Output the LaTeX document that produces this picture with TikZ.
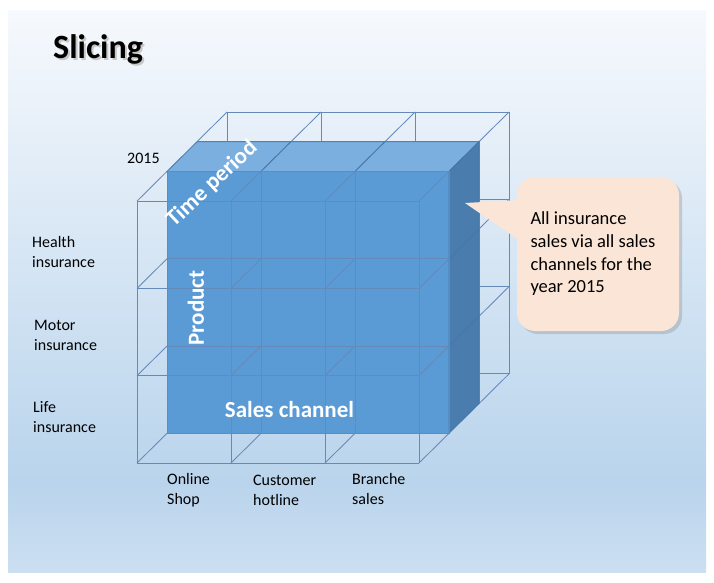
\documentclass[tikz,border=0pt]{standalone}
\usepackage{fontspec}
\setmainfont{Carlito}
\usepackage{tikz}
\usetikzlibrary{shapes,shadows,calc,positioning}

\definecolor{wirecol}{HTML}{6589B9}
\definecolor{slabfront}{HTML}{5B9BD5}
\definecolor{slabtop}{HTML}{7BAFE0}
\definecolor{slabside}{HTML}{4A7DAE}
\definecolor{slabedge}{HTML}{4677AA}
\definecolor{notefill}{HTML}{FBE5D6}
\definecolor{bgtop}{HTML}{F6F9FD}
\definecolor{bgmid}{HTML}{B9D4EC}
\definecolor{bgbot}{HTML}{CCDFF1}

\pgfdeclareverticalshading{slicebg}{100bp}{color(0bp)=(bgbot); color(25bp)=(bgbot); color(33bp)=(bgmid); color(75bp)=(bgtop); color(100bp)=(bgtop)}

\newcommand{\shadowed}[2][black!35]{\makebox[0pt][l]{\kern2pt\raisebox{-2pt}{\textcolor{#1}{#2}}}#2}

\tikzset{
  wire/.style={wirecol, line width=0.85pt},
  cellfront/.style={fill=slabfront, draw=slabedge, line width=0.8pt},
  celltop/.style={fill=slabtop, draw=slabedge, line width=0.8pt},
  cellside/.style={fill=slabside, draw=slabedge, line width=0.8pt},
  lbl/.style={font=\fontsize{16}{20}\selectfont, align=flush left, anchor=base west, inner sep=0pt},
  axislbl/.style={font=\fontsize{23}{27}\selectfont\bfseries, text=white, inner sep=0pt},
  note/.style={fill=notefill, rounded corners=18pt, minimum width=162pt, minimum height=154pt,
    text width=135pt, inner xsep=13pt, align=flush left, font=\fontsize{18.5}{22.7}\selectfont,
    drop shadow={opacity=0.3, shadow xshift=3pt, shadow yshift=-3pt}}
}

\begin{document}
\begin{tikzpicture}[x=1pt,y=-1pt]
\useasboundingbox (0,0) rectangle (714,582);
\shade[shading=slicebg] (8,10) rectangle (706,572);

\node (title) [font=\fontsize{34}{40}\selectfont\bfseries, anchor=base west, inner sep=0pt] at (53,58) {\shadowed[black!22]{Slicing}};

\begin{scope}[shift={(137,463)}, x={(94pt,0pt)}, y={(0pt,87.3pt)}, z={(30pt,29.7pt)}]
\foreach \j in {0,...,3}
  \foreach \k in {2,3}
    \draw[wire] (0,\j,\k) -- (3,\j,\k);
\foreach \i in {0,...,3}
  \foreach \k in {2,3}
    \draw[wire] (\i,0,\k) -- (\i,3,\k);
\foreach \i in {0,...,3}
  \foreach \j in {0,...,3}
    \draw[wire] (\i,\j,2) -- (\i,\j,3);

\foreach \i in {0,1,2}
  \foreach \j in {0,1,2}
    \filldraw[cellfront] (\i,\j,1) -- (\i+1,\j,1) -- (\i+1,\j+1,1) -- (\i,\j+1,1) -- cycle;
\foreach \i in {0,1,2}
  \filldraw[celltop] (\i,3,1) -- (\i+1,3,1) -- (\i+1,3,2) -- (\i,3,2) -- cycle;
\foreach \j in {0,1,2}
  \filldraw[cellside] (3,\j,1) -- (3,\j,2) -- (3,\j+1,2) -- (3,\j+1,1) -- cycle;

\foreach \j in {0,...,3}
  \foreach \k in {0,1}
    \draw[wire] (0,\j,\k) -- (3,\j,\k);
\foreach \i in {0,...,3}
  \foreach \k in {0,1}
    \draw[wire] (\i,0,\k) -- (\i,3,\k);
\foreach \i in {0,...,3}
  \foreach \j in {0,...,3}
    \draw[wire] (\i,\j,0) -- (\i,\j,1);
\end{scope}

\node[axislbl, rotate=43] (time) at (212,184) {Time period};
\node[axislbl, rotate=90] (product) at (196,308) {Product};
\node[axislbl, anchor=base] (channel) at (289.5,417) {Sales channel};

\node[lbl] (year) at (127,163) {2015};
\node[lbl] (health) at (32,267) {Health\\insurance};
\node[lbl] (motor) at (34,350) {Motor\\insurance};
\node[lbl] (life) at (33,432) {Life\\insurance};
\node[lbl] (online) at (167,504) {Online\\Shop};
\node[lbl] (hotline) at (253,505) {Customer\\hotline};
\node[lbl] (branch) at (352,504) {Branche\\sales};

\node[note] (remark) at (598,254) {All insurance\\sales via all sales\\channels for the\\year 2015};
\coordinate (tip) at (465,203);
\fill[notefill] (tip) -- ($(remark.west)+(2,-54)$) -- ($(remark.west)+(2,-14)$) -- cycle;
\end{tikzpicture}
\end{document}
